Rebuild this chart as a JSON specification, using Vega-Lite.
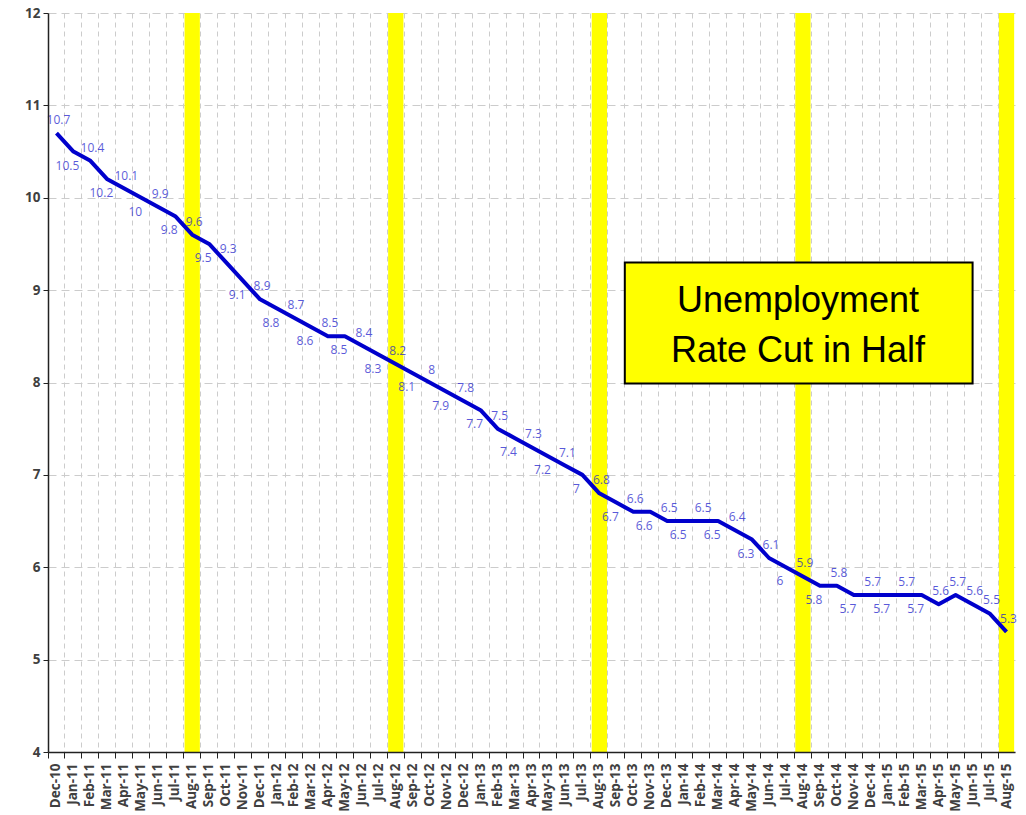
{
  "$schema": "https://vega.github.io/schema/vega-lite/v6.json",
  "width": 967,
  "height": 739,
  "autosize": {"type": "none"},
  "padding": {"left": 48, "top": 13, "right": 11, "bottom": 63},
  "background": "white",
  "config": {"view": {"stroke": null}},
  "datasets": {
    "rate": [
      {"month": "Dec-10", "value": 10.7},
      {"month": "Jan-11", "value": 10.5},
      {"month": "Feb-11", "value": 10.4},
      {"month": "Mar-11", "value": 10.2},
      {"month": "Apr-11", "value": 10.1},
      {"month": "May-11", "value": 10},
      {"month": "Jun-11", "value": 9.9},
      {"month": "Jul-11", "value": 9.8},
      {"month": "Aug-11", "value": 9.6},
      {"month": "Sep-11", "value": 9.5},
      {"month": "Oct-11", "value": 9.3},
      {"month": "Nov-11", "value": 9.1},
      {"month": "Dec-11", "value": 8.9},
      {"month": "Jan-12", "value": 8.8},
      {"month": "Feb-12", "value": 8.7},
      {"month": "Mar-12", "value": 8.6},
      {"month": "Apr-12", "value": 8.5},
      {"month": "May-12", "value": 8.5},
      {"month": "Jun-12", "value": 8.4},
      {"month": "Jul-12", "value": 8.3},
      {"month": "Aug-12", "value": 8.2},
      {"month": "Sep-12", "value": 8.1},
      {"month": "Oct-12", "value": 8},
      {"month": "Nov-12", "value": 7.9},
      {"month": "Dec-12", "value": 7.8},
      {"month": "Jan-13", "value": 7.7},
      {"month": "Feb-13", "value": 7.5},
      {"month": "Mar-13", "value": 7.4},
      {"month": "Apr-13", "value": 7.3},
      {"month": "May-13", "value": 7.2},
      {"month": "Jun-13", "value": 7.1},
      {"month": "Jul-13", "value": 7},
      {"month": "Aug-13", "value": 6.8},
      {"month": "Sep-13", "value": 6.7},
      {"month": "Oct-13", "value": 6.6},
      {"month": "Nov-13", "value": 6.6},
      {"month": "Dec-13", "value": 6.5},
      {"month": "Jan-14", "value": 6.5},
      {"month": "Feb-14", "value": 6.5},
      {"month": "Mar-14", "value": 6.5},
      {"month": "Apr-14", "value": 6.4},
      {"month": "May-14", "value": 6.3},
      {"month": "Jun-14", "value": 6.1},
      {"month": "Jul-14", "value": 6},
      {"month": "Aug-14", "value": 5.9},
      {"month": "Sep-14", "value": 5.8},
      {"month": "Oct-14", "value": 5.8},
      {"month": "Nov-14", "value": 5.7},
      {"month": "Dec-14", "value": 5.7},
      {"month": "Jan-15", "value": 5.7},
      {"month": "Feb-15", "value": 5.7},
      {"month": "Mar-15", "value": 5.7},
      {"month": "Apr-15", "value": 5.6},
      {"month": "May-15", "value": 5.7},
      {"month": "Jun-15", "value": 5.6},
      {"month": "Jul-15", "value": 5.5},
      {"month": "Aug-15", "value": 5.3}
    ],
    "note": [{"text": "Unemployment\nRate Cut in Half"}]
  },
  "resolve": {"axis": {"x": "independent", "y": "independent"}},
  "layer": [
    {
      "data": {"name": "rate"},
      "transform": [{"filter": "indexof(datum.month, 'Aug') == 0"}],
      "mark": {"type": "bar", "color": "#ffff00", "width": {"band": 0.9}},
      "encoding": {
        "x": {
          "field": "month", "type": "ordinal", "sort": null,
          "scale": {"domain": ["Dec-10","Jan-11","Feb-11","Mar-11","Apr-11","May-11","Jun-11","Jul-11","Aug-11","Sep-11","Oct-11","Nov-11","Dec-11","Jan-12","Feb-12","Mar-12","Apr-12","May-12","Jun-12","Jul-12","Aug-12","Sep-12","Oct-12","Nov-12","Dec-12","Jan-13","Feb-13","Mar-13","Apr-13","May-13","Jun-13","Jul-13","Aug-13","Sep-13","Oct-13","Nov-13","Dec-13","Jan-14","Feb-14","Mar-14","Apr-14","May-14","Jun-14","Jul-14","Aug-14","Sep-14","Oct-14","Nov-14","Dec-14","Jan-15","Feb-15","Mar-15","Apr-15","May-15","Jun-15","Jul-15","Aug-15"], "paddingInner": 0, "paddingOuter": 0},
          "axis": {"orient": "bottom", "grid": true, "gridColor": "#cccccc", "gridDash": [5, 4], "gridWidth": 1, "bandPosition": 0, "domain": false, "ticks": false, "labels": false, "title": null, "zindex": 0}
        },
        "y": {
          "datum": 12, "type": "quantitative",
          "scale": {"domain": [4, 12], "nice": false, "zero": false},
          "axis": {"orient": "left", "grid": true, "gridColor": "#cccccc", "gridDash": [8, 5], "gridWidth": 1, "values": [4,5,6,7,8,9,10,11,12], "domain": false, "ticks": false, "labels": false, "title": null, "zindex": 0}
        },
        "y2": {"datum": 4}
      }
    },
    {
      "data": {"name": "rate"},
      "mark": {"type": "line", "color": "#0000cc", "strokeWidth": 4, "strokeJoin": "round"},
      "encoding": {
        "x": {
          "field": "month", "type": "ordinal", "sort": null,
          "axis": {"orient": "bottom", "grid": false, "bandPosition": 0, "labelAngle": -90, "labelFont": "Open Sans", "labelFontSize": 13.5, "labelFontWeight": "bold", "labelColor": "#404040", "labelPadding": 5, "tickSize": 6, "tickColor": "#222222", "domainColor": "#222222", "domainWidth": 1.5, "title": null, "zindex": 1}
        },
        "y": {
          "field": "value", "type": "quantitative",
          "axis": {"orient": "left", "grid": false, "values": [4,5,6,7,8,9,10,11,12], "labelFont": "Open Sans", "labelFontSize": 13.5, "labelFontWeight": "bold", "labelColor": "#404040", "labelPadding": 3, "tickSize": 5, "tickColor": "#222222", "domainColor": "#222222", "domainWidth": 1.5, "title": null, "zindex": 1}
        }
      }
    },
    {
      "data": {"name": "rate"},
      "transform": [
        {"window": [{"op": "row_number", "as": "i"}]},
        {"filter": "datum.i % 2 == 1 || datum.i >= 53"}
      ],
      "mark": {"type": "text", "font": "Open Sans", "fontSize": 12, "fill": "#1a1acc", "opacity": 0.72, "dy": -13, "dx": 2},
      "encoding": {
        "x": {"field": "month", "type": "ordinal", "sort": null, "axis": null},
        "y": {"field": "value", "type": "quantitative", "axis": null},
        "text": {"field": "value", "type": "quantitative"}
      }
    },
    {
      "data": {"name": "rate"},
      "transform": [
        {"window": [{"op": "row_number", "as": "i"}]},
        {"filter": "datum.i % 2 == 0 && datum.i < 53"}
      ],
      "mark": {"type": "text", "font": "Open Sans", "fontSize": 12, "fill": "#1a1acc", "opacity": 0.72, "dy": 14, "dx": -6},
      "encoding": {
        "x": {"field": "month", "type": "ordinal", "sort": null, "axis": null},
        "y": {"field": "value", "type": "quantitative", "axis": null},
        "text": {"field": "value", "type": "quantitative"}
      }
    },
    {
      "data": {"name": "note"},
      "mark": {"type": "rect", "fill": "#ffff00", "stroke": "#000000", "strokeWidth": 2},
      "encoding": {
        "x": {"datum": "Oct-13", "type": "ordinal", "bandPosition": 0, "axis": null},
        "x2": {"datum": "Jun-15"},
        "y": {"datum": 9.3, "type": "quantitative", "axis": null},
        "y2": {"datum": 7.99}
      }
    },
    {
      "data": {"name": "note"},
      "mark": {"type": "text", "font": "Liberation Sans", "fontSize": 36, "lineHeight": 50, "lineBreak": "\n", "color": "#000000", "align": "center", "baseline": "middle", "dx": -5},
      "encoding": {
        "x": {"datum": "Aug-14", "type": "ordinal", "axis": null},
        "y": {"datum": 8.88, "type": "quantitative", "axis": null},
        "text": {"field": "text"}
      }
    }
  ]
}
